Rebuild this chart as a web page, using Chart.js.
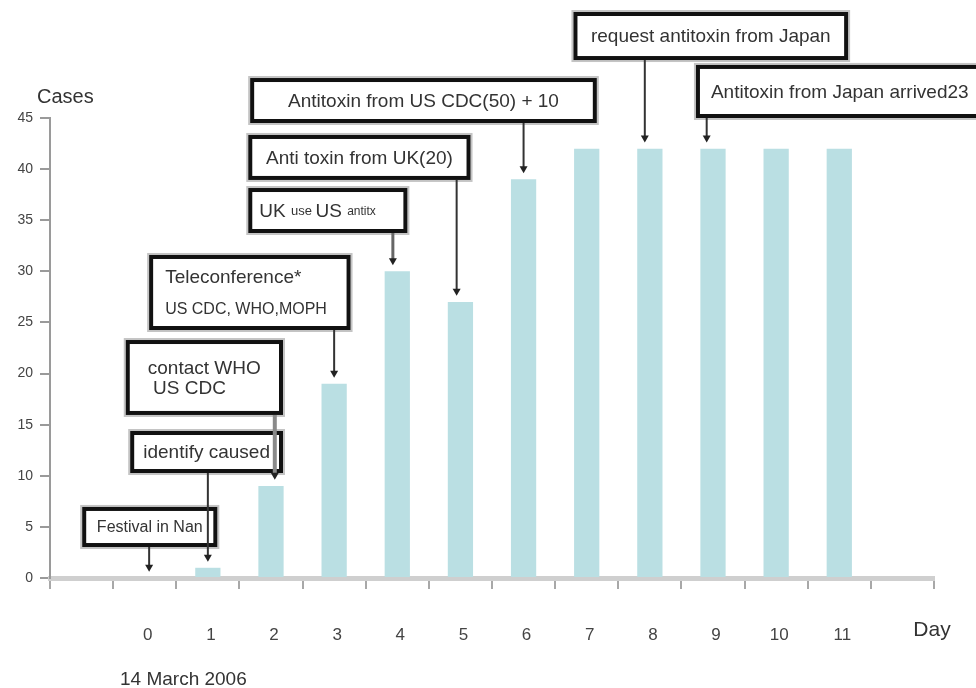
<!DOCTYPE html>
<html>
<head>
<meta charset="utf-8">
<title>Cases by day</title>
<script src="https://cdn.jsdelivr.net/npm/chart.js@4.4.1/dist/chart.umd.min.js"></script>
<style>
  html, body { margin: 0; padding: 0; background: #fff; }
  #wrap { width: 976px; height: 688px; position: relative; }
</style>
</head>
<body>
<div id="wrap"><canvas id="c"></canvas></div>
<script>
// ── data ─────────────────────────────────────────
const DAYS = ['0', '1', '2', '3', '4', '5', '6', '7', '8', '9', '10', '11'];
const CASES = [0, 1, 9, 19, 30, 27, 39, 42, 42, 42, 42, 42];
const Y_MAX = 45;
const Y_STEP = 5;

// one empty slot either side of the days, as on the original axis
const LABELS = [''].concat(DAYS, ['']);
const VALUES = [null].concat(CASES, [null]);

// call-outs: box given in (day, cases) units, arrow points at that day's bar
const NOTES = [
  { lines: ['Festival in Nan'], size: 16, day: 0, shift: 0.07, box: [-0.99, 1.15, 6.95, 3.03], align: 'center' },
  { lines: ['identify caused'], size: 19, day: 1, shift: 0, box: [-0.23, 2.19, 14.38, 10.27], align: 'center' },
  { lines: ['contact WHO', ' US CDC'], size: 19, day: 2, shift: 0.06, box: [-0.30, 2.19, 23.28, 15.95],
    align: 'left', pad: 22, gap: 20, lineColor: '#8a8a8a', lineWidth: 4 },
  { lines: ['Teleconference*', [['US CDC, WHO,MOPH', 16]]], size: 19, day: 3, box: [0.07, 3.26, 31.6, 24.26],
    align: 'left', pad: 16, gap: 32 },
  { lines: [[['UK ', 19], ['use ', 13], ['US ', 19], ['antitx', 12]]], size: 19, day: 4, shift: -0.07,
    box: [1.64, 4.16, 38.15, 33.75], align: 'left', pad: 11, lineColor: '#666', lineWidth: 3 },
  { lines: ['Anti toxin from UK(20)'], size: 19, day: 5, shift: -0.06, box: [1.64, 5.16, 43.34, 38.94], align: 'center' },
  { lines: ['Antitoxin from US CDC(50) + 10'], size: 19, day: 6, box: [1.67, 7.16, 48.91, 44.51], align: 'center' },
  { lines: ['request antitoxin from Japan'], size: 19, day: 8, shift: -0.08, box: [6.79, 11.14, 55.37, 50.67], align: 'center' },
  { lines: ['Antitoxin from Japan arrived23'], size: 19, day: 9, shift: -0.1, box: [8.73, 13.4, 50.19, 45.0], align: 'left', pad: 15 },
];

const FONT = "'Liberation Sans', Arial, sans-serif";

// ── call-out / axis title plugin ─────────────────
const callouts = {
  id: 'callouts',
  afterDraw(chart) {
    const { ctx, chartArea: ca, scales: { x, y } } = chart;
    const px = d => x.getPixelForValue(d + 1);
    const py = v => y.getPixelForValue(v);

    ctx.save();
    ctx.textBaseline = 'middle';

    // boxes
    NOTES.forEach(n => {
      const L = px(n.box[0]), R = px(n.box[1]), T = py(n.box[2]), B = py(n.box[3]);
      ctx.fillStyle = '#fff';
      ctx.fillRect(L, T, R - L, B - T);
      ctx.strokeStyle = '#c4c4c4';
      ctx.lineWidth = 2;
      ctx.strokeRect(L - 1, T - 1, R - L + 2, B - T + 2);
      ctx.strokeStyle = '#111';
      ctx.lineWidth = 4;
      ctx.strokeRect(L + 2, T + 2, R - L - 4, B - T - 4);

      const gap = n.gap || 0;
      const mid = (T + B) / 2;
      n.lines.forEach((line, i) => {
        const segs = typeof line === 'string' ? [[line, n.size]] : line;
        const ly = mid + (i - (n.lines.length - 1) / 2) * gap;
        let w = 0;
        segs.forEach(([t, s]) => { ctx.font = s + 'px ' + FONT; w += ctx.measureText(t).width; });
        let tx = n.align === 'center' ? (L + R) / 2 - w / 2 : L + (n.pad || 10);
        ctx.fillStyle = '#333';
        ctx.textAlign = 'left';
        segs.forEach(([t, s]) => {
          ctx.font = s + 'px ' + FONT;
          ctx.fillText(t, tx, ly + 1);
          tx += ctx.measureText(t).width;
        });
      });
    });

    // arrows on top
    NOTES.forEach(n => {
      const ax = px(n.day + (n.shift || 0));
      const from = py(n.box[3]);
      const tip = py(CASES[n.day] + 0.6);
      ctx.strokeStyle = n.lineColor || '#333';
      ctx.lineWidth = n.lineWidth || 2;
      ctx.beginPath();
      ctx.moveTo(ax, from);
      ctx.lineTo(ax, tip - 5);
      ctx.stroke();
      ctx.fillStyle = '#222';
      ctx.beginPath();
      ctx.moveTo(ax - 4, tip - 7);
      ctx.lineTo(ax + 4, tip - 7);
      ctx.lineTo(ax, tip);
      ctx.closePath();
      ctx.fill();
    });

    // axis titles
    ctx.fillStyle = '#333';
    ctx.textAlign = 'left';
    ctx.font = '20px ' + FONT;
    ctx.fillText('Cases', ca.left - 13, ca.top - 21);
    ctx.textAlign = 'center';
    ctx.font = '21px ' + FONT;
    ctx.fillText('Day', ca.right - 2, ca.bottom + 52);
    ctx.textAlign = 'left';
    ctx.font = '19px ' + FONT;
    ctx.fillText('14 March 2006', ca.left + 70, ca.bottom + 102);
    ctx.restore();
  }
};

new Chart(document.getElementById('c'), {
  type: 'bar',
  data: {
    labels: LABELS,
    datasets: [{
      data: VALUES,
      backgroundColor: '#badfe3',
      borderWidth: 0,
      barPercentage: 0.4,
      categoryPercentage: 1,
    }]
  },
  options: {
    responsive: true,
    maintainAspectRatio: false,
    animation: false,
    layout: { padding: { top: 118, right: 42, left: 0, bottom: 0 } },
    plugins: { legend: { display: false }, tooltip: { enabled: false } },
    scales: {
      x: {
        offset: true,
        grid: { drawOnChartArea: false, drawTicks: true, tickLength: 11, color: '#a8a8a8', lineWidth: 2, offset: true },
        border: { display: true, color: '#cfcfcf', width: 5 },
        ticks: { padding: 36, labelOffset: 3, color: '#444', font: { family: FONT, size: 17 }, maxRotation: 0, autoSkip: false },
        afterFit: s => { s.height = 110; }
      },
      y: {
        min: 0,
        max: Y_MAX,
        ticks: { stepSize: Y_STEP, padding: 7, color: '#444', font: { family: FONT, size: 14 } },
        grid: { drawOnChartArea: false, tickLength: 10, color: '#9a9a9a', lineWidth: 2 },
        border: { color: '#9a9a9a', width: 2 },
        afterFit: s => { s.width = 50; }
      }
    }
  },
  plugins: [callouts]
});
</script>
</body>
</html>
